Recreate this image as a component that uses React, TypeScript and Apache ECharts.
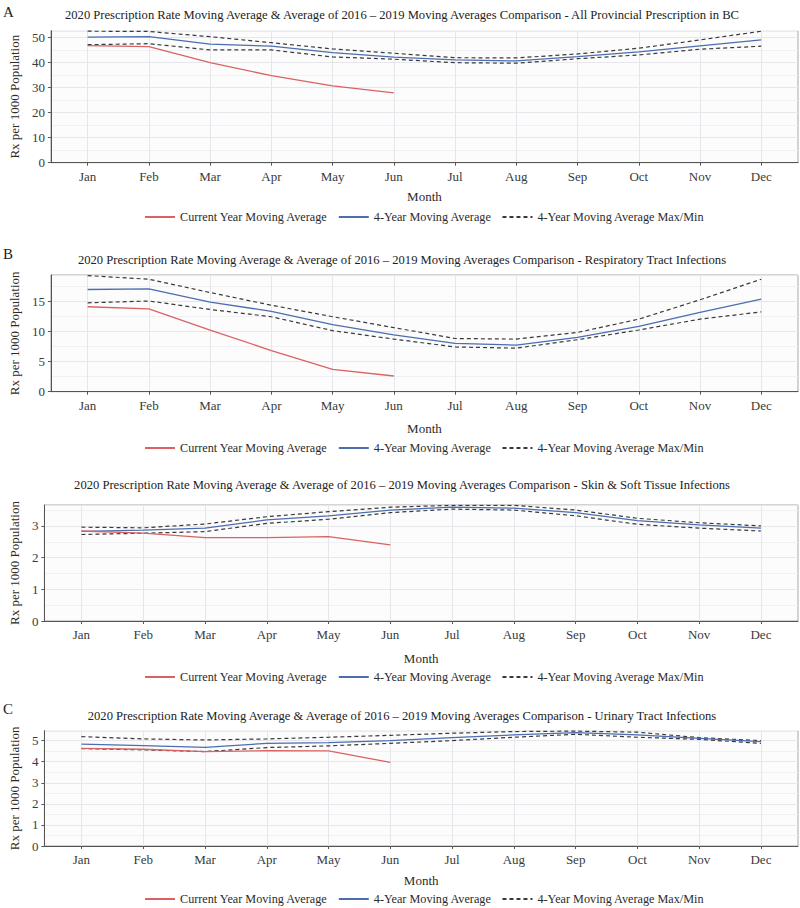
import React, { useEffect, useRef } from "react";
import * as echarts from "echarts";

const MONTHS = ["Jan", "Feb", "Mar", "Apr", "May", "Jun", "Jul", "Aug", "Sep", "Oct", "Nov", "Dec"];

const TITLE_PREFIX = "2020 Prescription Rate Moving Average & Average of 2016 – 2019 Moving Averages Comparison - ";
const PANEL_SUBJECTS = [
  "All Provincial Prescription in BC",
  "Respiratory Tract Infections",
  "Skin & Soft Tissue Infections",
  "Urinary Tract Infections",
];
const PANEL_LETTERS = ["A", "B", "", "C"];

const SERIES_NAMES = ["Current Year Moving Average", "4-Year Moving Average", "4-Year Moving Average Max/Min"];

// Panel A – All Provincial
const A_current = [46.8, 46.4, 40.0, 34.8, 30.7, 27.9];
const A_avg = [50.2, 50.4, 47.4, 46.6, 44.0, 42.2, 41.1, 40.7, 42.4, 44.3, 46.7, 49.1];
const A_max = [52.6, 52.5, 50.4, 48.0, 45.5, 43.8, 42.0, 41.9, 43.5, 45.8, 49.1, 52.6];
const A_min = [47.2, 47.6, 45.1, 45.1, 42.3, 41.4, 40.0, 39.8, 41.6, 43.1, 45.4, 46.6];

// Panel B – Respiratory
const B_current = [14.05, 13.7, 10.2, 6.8, 3.7, 2.6];
const B_avg = [16.9, 17.0, 14.8, 13.3, 11.1, 9.4, 8.0, 7.7, 9.0, 10.8, 13.1, 15.3];
const B_max = [19.2, 18.6, 16.4, 14.3, 12.4, 10.6, 8.8, 8.7, 9.8, 12.0, 15.2, 18.6];
const B_min = [14.7, 15.0, 13.6, 12.4, 10.1, 8.7, 7.4, 7.2, 8.6, 10.2, 12.0, 13.2];

// Panel – Skin & Soft Tissue
const S_current = [2.84, 2.77, 2.63, 2.63, 2.66, 2.4];
const S_avg = [2.83, 2.87, 2.93, 3.19, 3.32, 3.5, 3.59, 3.56, 3.42, 3.17, 3.03, 2.93];
const S_max = [2.96, 2.94, 3.06, 3.29, 3.45, 3.59, 3.65, 3.65, 3.5, 3.24, 3.1, 3.0];
const S_min = [2.73, 2.77, 2.82, 3.08, 3.21, 3.42, 3.53, 3.5, 3.32, 3.05, 2.93, 2.84];

// Panel C – Urinary
const C_current = [4.63, 4.59, 4.48, 4.52, 4.51, 3.97];
const C_avg = [4.83, 4.76, 4.68, 4.87, 4.9, 5.0, 5.14, 5.27, 5.38, 5.27, 5.11, 4.95];
const C_max = [5.19, 5.08, 5.03, 5.08, 5.16, 5.25, 5.35, 5.43, 5.45, 5.4, 5.14, 5.0];
const C_min = [4.62, 4.56, 4.48, 4.67, 4.75, 4.87, 5.0, 5.16, 5.3, 5.16, 5.06, 4.87];

// Y tick labels per panel
const A_ticks = [0, 10, 20, 30, 40, 50];
const B_ticks = [0, 5, 10, 15];
const S_ticks = [0, 1, 2, 3];
const C_ticks = [0, 1, 2, 3, 4, 5];

const PANELS = [
  { current: A_current, avg: A_avg, max: A_max, min: A_min, ticks: A_ticks, yMax: 52.8, minorStep: 5 },
  { current: B_current, avg: B_avg, max: B_max, min: B_min, ticks: B_ticks, yMax: 19.3, minorStep: 2.5 },
  { current: S_current, avg: S_avg, max: S_max, min: S_min, ticks: S_ticks, yMax: 3.66, minorStep: 0.5 },
  { current: C_current, avg: C_avg, max: C_max, min: C_min, ticks: C_ticks, yMax: 5.47, minorStep: 0.5 },
];

const LAYOUT = [
  { left: 42.7, top: 30.7, height: 132, titleTop: 8, letterY: 8, nameGap: 27, yNameGap: 28, legendTop: 211 },
  { left: 42.7, top: 275, height: 116.7, titleTop: 253, letterY: 250, nameGap: 30, yNameGap: 28, legendTop: 442 },
  { left: 36, top: 505, height: 116, titleTop: 478, letterY: 0, nameGap: 31, yNameGap: 22, legendTop: 671 },
  { left: 36, top: 730.7, height: 115.3, titleTop: 709, letterY: 705, nameGap: 28, yNameGap: 22, legendTop: 893 },
];

const FONT = "'Liberation Serif', 'Times New Roman', 'DejaVu Serif', serif";
const RED = "#db6262";
const BLUE = "#4c6db0";
const DASH = "#3a3a3a";
const MONTH_VALUES = MONTHS.map((_, i) => i + 1);

const toPairs = (arr: number[]) => arr.map((v, i) => [i + 1, v]);

export default function App() {
  const ref = useRef<HTMLDivElement>(null);

  useEffect(() => {
    document.body.style.margin = "0";
    if (!ref.current) return;
    const chart = echarts.init(ref.current, undefined, { renderer: "svg" });

    const grids: any[] = [];
    const xAxes: any[] = [];
    const yAxes: any[] = [];
    const series: any[] = [];
    const titles: any[] = [];
    const legends: any[] = [];
    const graphics: any[] = [];

    PANELS.forEach((p, i) => {
      const L = LAYOUT[i];
      grids.push({
        left: L.left,
        right: 2,
        top: L.top,
        height: L.height,
        show: true,
        backgroundColor: "#fcfcfc",
        borderColor: "#a8a8a8",
        borderWidth: 1,
      });
      xAxes.push({
        type: "value",
        gridIndex: i,
        min: 0.4,
        max: 12.6,
        name: "Month",
        nameLocation: "middle",
        nameGap: L.nameGap,
        nameTextStyle: { fontFamily: FONT, fontSize: 13, color: "#2b2b2b" },
        axisLine: { show: true, onZero: false, lineStyle: { color: "#555", width: 1 } },
        axisTick: { show: true, length: 3, customValues: MONTH_VALUES, lineStyle: { color: "#555" } },
        axisLabel: {
          customValues: MONTH_VALUES,
          formatter: (v: number) => MONTHS[Math.round(v) - 1] || "",
          fontFamily: FONT,
          fontSize: 13,
          color: "#3a3a3a",
          margin: 7,
        },
        splitLine: { show: true, lineStyle: { color: "#e6e6ec", width: 1 } },
      });
      // grid-line axis (major + minor)
      yAxes.push({
        type: "value",
        gridIndex: i,
        position: "left",
        min: 0,
        max: p.yMax,
        interval: p.minorStep,
        axisLine: { show: false },
        axisTick: { show: false },
        axisLabel: { show: false },
        splitLine: { show: true, lineStyle: { color: ["#e6e6ec", "#f1f1f4"], width: 1 } },
      });
      // label axis
      yAxes.push({
        type: "value",
        gridIndex: i,
        position: "left",
        min: 0,
        max: p.yMax,
        name: "Rx per 1000 Population",
        nameLocation: "middle",
        nameGap: L.yNameGap,
        nameRotate: 90,
        nameTextStyle: { fontFamily: FONT, fontSize: 13, color: "#2b2b2b" },
        axisLine: { show: true, lineStyle: { color: "#555", width: 1 } },
        axisTick: { show: true, length: 3, customValues: p.ticks, lineStyle: { color: "#555" } },
        axisLabel: {
          customValues: p.ticks,
          fontFamily: FONT,
          fontSize: 13,
          color: "#3a3a3a",
          margin: 6,
        },
        splitLine: { show: false },
      });
      const yIdx = 2 * i + 1;
      const common = { type: "line", xAxisIndex: i, yAxisIndex: yIdx, symbol: "none", showSymbol: false, smooth: false };
      series.push({ ...common, name: SERIES_NAMES[2], data: toPairs(p.max), lineStyle: { color: DASH, width: 1.2, type: [4, 3] }, itemStyle: { color: DASH } });
      series.push({ ...common, name: SERIES_NAMES[2], data: toPairs(p.min), lineStyle: { color: DASH, width: 1.2, type: [4, 3] }, itemStyle: { color: DASH } });
      series.push({ ...common, name: SERIES_NAMES[1], data: toPairs(p.avg), lineStyle: { color: BLUE, width: 1.3 }, itemStyle: { color: BLUE } });
      series.push({ ...common, name: SERIES_NAMES[0], data: toPairs(p.current), lineStyle: { color: RED, width: 1.3 }, itemStyle: { color: RED } });

      titles.push({
        text: TITLE_PREFIX + PANEL_SUBJECTS[i],
        left: 402,
        textAlign: "center",
        top: L.titleTop,
        padding: 0,
        textStyle: { fontFamily: FONT, fontSize: 12.6, fontWeight: "normal", color: "#222" },
      });
      legends.push({
        data: SERIES_NAMES,
        left: 144,
        top: L.legendTop,
        itemWidth: 30,
        itemHeight: 12,
        itemGap: 10,
        padding: 0,
        selectedMode: false,
        itemStyle: { opacity: 0 },
        textStyle: { fontFamily: FONT, fontSize: 12.2, color: "#2b2b2b" },
      });
      if (PANEL_LETTERS[i]) {
        graphics.push({
          type: "text",
          left: 3,
          top: L.letterY - 4,
          style: { text: PANEL_LETTERS[i], fontFamily: FONT, fontSize: 15, fill: "#222" },
        });
      }
    });

    chart.setOption({
      animation: false,
      backgroundColor: "#ffffff",
      textStyle: { fontFamily: FONT },
      title: titles,
      legend: legends,
      grid: grids,
      xAxis: xAxes,
      yAxis: yAxes,
      series,
      graphic: graphics,
    });

    return () => chart.dispose();
  }, []);

  return <div ref={ref} style={{ width: 800, height: 908 }} />;
}
